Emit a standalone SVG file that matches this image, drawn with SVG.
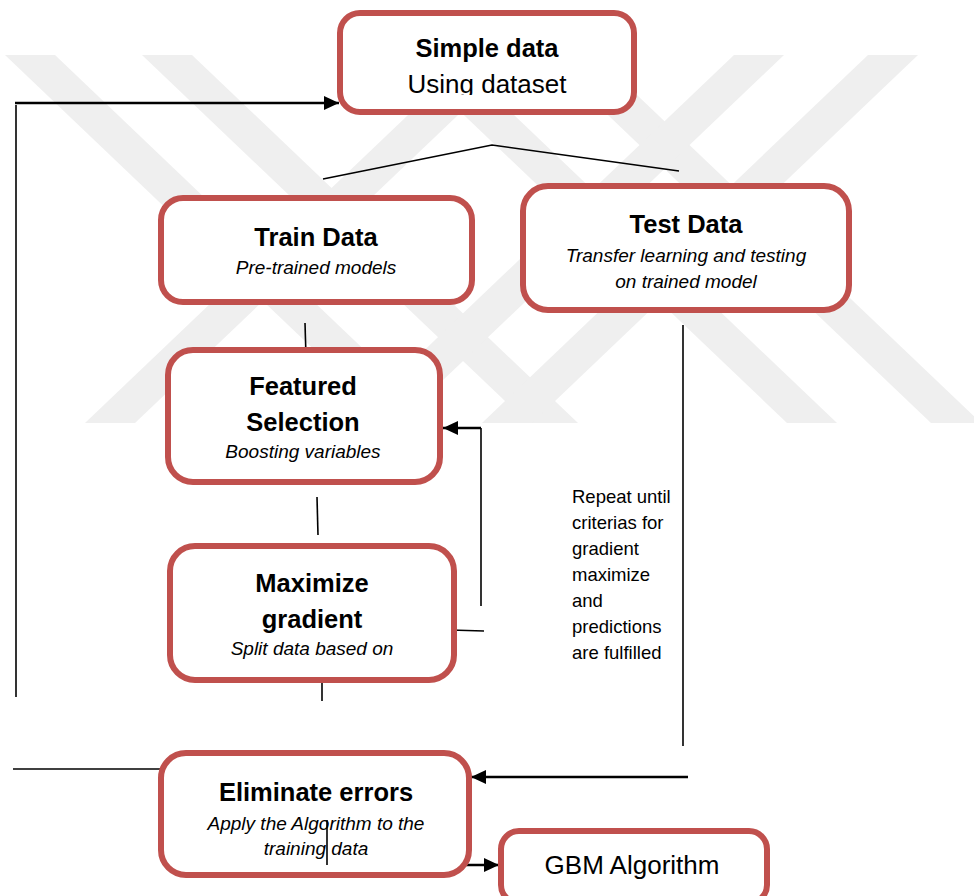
<svg xmlns="http://www.w3.org/2000/svg" width="974" height="896" viewBox="0 0 974 896">
<style>
.box{fill:#ffffff;stroke:#c0504d;stroke-width:6}
.t{font-family:"Liberation Sans",Arial,sans-serif;font-size:25.5px;font-weight:bold;fill:#000;text-anchor:middle}
.s{font-family:"Liberation Sans",Arial,sans-serif;font-size:19px;font-style:italic;fill:#000;text-anchor:middle}
.r{font-family:"Liberation Sans",Arial,sans-serif;font-size:26px;fill:#000;text-anchor:middle}
.n{font-family:"Liberation Sans",Arial,sans-serif;font-size:18.5px;fill:#000}
.ln{fill:none;stroke:#000;stroke-width:1.6}
.lt{fill:none;stroke:#000;stroke-width:2.6}
.wm{fill:#efefef}
</style>
<defs>
<marker id="ah" markerUnits="userSpaceOnUse" markerWidth="15" markerHeight="14" refX="15" refY="7" orient="auto">
<path d="M0,0 L15,7 L0,14 z" fill="#000"/>
</marker>
<clipPath id="clipUsing"><rect x="340" y="60" width="300" height="35"/></clipPath>
</defs>
<rect width="974" height="896" fill="#ffffff"/>
<g id="watermark">
<polygon class="wm" points="5,55 55,55 441,423 391,423"/>
<polygon class="wm" points="142,55 192,55 578,423 528,423"/>
<polygon class="wm" points="401,55 451,55 837,423 787,423"/>
<polygon class="wm" points="545,55 595,55 981,423 931,423"/>
<polygon class="wm" points="471,55 521,55 135,423 85,423"/>
<polygon class="wm" points="734,55 784,55 398,423 348,423"/>
<polygon class="wm" points="868,55 918,55 532,423 482,423"/>
</g>
<g id="connectors">
<path class="lt" d="M15,103 L339,103" marker-end="url(#ah)"/>
<path class="ln" d="M16,105 L16,697"/>
<path class="ln" d="M13,769 L161,769"/>
<path class="ln" d="M323,179 L492,145 L679,171"/>
<path class="ln" d="M305,323 L306,357"/>
<path class="ln" d="M317,497 L318,535"/>
<path class="ln" d="M322,675 L322,701"/>
<path class="ln" d="M450,630 L484,631"/>
<path class="ln" d="M481,606 L481,428"/>
<path class="lt" d="M481,428 L443,428" marker-end="url(#ah)"/>
<path class="ln" d="M683,325 L683,746"/>
<path class="lt" d="M688,777 L471,777" marker-end="url(#ah)"/>
<path class="lt" d="M327,865 L499,865" marker-end="url(#ah)"/>
</g>
<g id="simple-data">
<rect class="box" x="340" y="13" width="294" height="99" rx="20"/>
<text class="t" x="487" y="57">Simple data</text>
<text class="r" x="487" y="93" clip-path="url(#clipUsing)">Using dataset</text>
</g>
<g id="train-data">
<rect class="box" x="161" y="198" width="311" height="104" rx="22"/>
<text class="t" x="316" y="246">Train Data</text>
<text class="s" x="316" y="274">Pre-trained models</text>
</g>
<g id="test-data">
<rect class="box" x="523" y="186" width="326" height="124" rx="25"/>
<text class="t" x="686" y="233">Test Data</text>
<text class="s" x="686" y="262">Transfer learning and testing</text>
<text class="s" x="686" y="288">on trained model</text>
</g>
<g id="featured-selection">
<rect class="box" x="168" y="350" width="272" height="132" rx="25"/>
<text class="t" x="303" y="395">Featured</text>
<text class="t" x="303" y="431">Selection</text>
<text class="s" x="303" y="458">Boosting variables</text>
</g>
<g id="maximize-gradient">
<rect class="box" x="170" y="546" width="284" height="134" rx="25"/>
<text class="t" x="312" y="592">Maximize</text>
<text class="t" x="312" y="628">gradient</text>
<text class="s" x="312" y="655">Split data based on</text>
</g>
<g id="repeat-note">
<text class="n" x="572" y="503">Repeat until</text>
<text class="n" x="572" y="529">criterias for</text>
<text class="n" x="572" y="555">gradient</text>
<text class="n" x="572" y="581">maximize</text>
<text class="n" x="572" y="607">and</text>
<text class="n" x="572" y="633">predictions</text>
<text class="n" x="572" y="659">are fulfilled</text>
</g>
<g id="eliminate-errors">
<rect class="box" x="161" y="753" width="308" height="122" rx="25"/>
<text class="t" x="316" y="801">Eliminate errors</text>
<text class="s" x="316" y="830">Apply the Algorithm to the</text>
<text class="s" x="316" y="855">training data</text>
</g>
<g id="gbm-algorithm">
<rect class="box" x="501" y="831" width="266" height="72" rx="18"/>
<text class="r" x="632" y="874">GBM Algorithm</text>
</g>
<g id="connector-over">
<path class="ln" d="M327,820 L327,865"/>
</g>
</svg>
